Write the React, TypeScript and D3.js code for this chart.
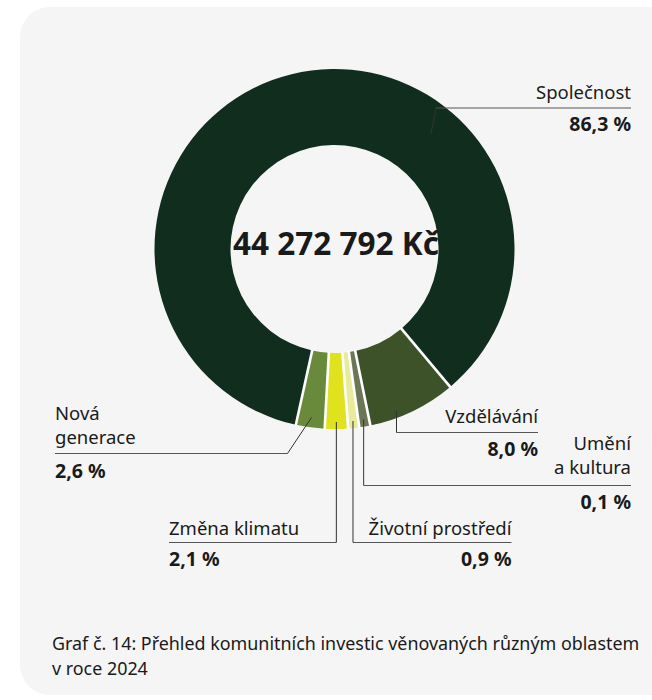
import React from "react";
import * as d3 from "d3";

// ---- data ----
const categories = [
  "Vzdělávání",
  "Umění a kultura",
  "Životní prostředí",
  "Změna klimatu",
  "Nová generace",
  "Společnost",
];
const shares = [8.0, 0.1, 0.9, 2.1, 2.6, 86.3];
const sliceColors = ["#3d5229", "#6b7657", "#e9ea9c", "#e0e21d", "#6a8a3b", "#112d1e"];
const totalAmount = 44272792;
const totalUnit = "Kč";
const captionLines = [
  "Graf č. 14: Přehled komunitních investic věnovaných různým oblastem",
  "v roce 2024",
];

// ---- layout ----
const W = 652;
const H = 700;
const CX = 334.5;
const CY = 249;
const R_OUT = 180;
const R_IN = 104;
const START_DEG = 140;
const MIN_SHARE = 1; // minimum visible share for tiny slices
const FONT = "'Noto Sans', 'DejaVu Sans', sans-serif";
const INK = "#1a1a1a";

type LabelLayout = {
  names: string[];
  align: "start" | "end";
  x: number;
  nameY: number[];
  ruleY: number;
  valueY: number;
  elbowX?: number;
  angleDeg?: number;
  r: number;
};

const labelLayout: Record<string, LabelLayout> = {
  "Společnost": { names: ["Společnost"], align: "end", x: 631, nameY: [98.5], ruleY: 108, valueY: 131, elbowX: 436, angleDeg: 40, r: 150 },
  "Vzdělávání": { names: ["Vzdělávání"], align: "end", x: 538, nameY: [422.5], ruleY: 432.5, valueY: 455.5, angleDeg: 159, r: 173 },
  "Umění a kultura": { names: ["Umění", "a kultura"], align: "end", x: 631, nameY: [449.5, 474], ruleY: 485.5, valueY: 508.5, r: 173 },
  "Životní prostředí": { names: ["Životní prostředí"], align: "end", x: 511.5, nameY: [535], ruleY: 542.5, valueY: 565.5, r: 173 },
  "Změna klimatu": { names: ["Změna klimatu"], align: "start", x: 169, nameY: [535], ruleY: 542.5, valueY: 565.5, r: 173 },
  "Nová generace": { names: ["Nová", "generace"], align: "start", x: 55, nameY: [419.5, 444], ruleY: 453.5, valueY: 477.5, elbowX: 287.5, r: 170 },
};

const fmtShare = (v: number) => d3.format(".1f")(v).replace(".", ",") + " %";
const fmtTotal = (v: number) => d3.format(",")(v).replace(/,/g, " ") + " " + totalUnit;

export default function App() {
  const rad = (d: number) => (d * Math.PI) / 180;
  const data = categories.map((c, i) => ({ name: c, value: shares[i], color: sliceColors[i] }));
  const pie = d3
    .pie<any>()
    .sort(null)
    .value((d) => Math.max(d.value, MIN_SHARE))
    .startAngle(rad(START_DEG))
    .endAngle(rad(START_DEG) + 2 * Math.PI);
  const arcs = pie(data);
  const arcGen = d3.arc<any>().innerRadius(R_IN).outerRadius(R_OUT);

  const polar = (a: number, r: number) => [CX + r * Math.sin(a), CY - r * Math.cos(a)];

  return (
    <svg
      width={W}
      height={H}
      style={{ position: "absolute", left: 0, top: 0, background: "#ffffff" }}
      fontFamily={FONT}
    >
      <rect x={20} y={7} width={W + 40} height={688} rx={30} ry={30} fill="#f5f5f5" />
      <g transform={`translate(${CX},${CY})`}>
        {arcs.map((a, i) => (
          <path key={i} d={arcGen(a) as string} fill={a.data.color} />
        ))}
        {arcs.map((a, i) => {
          const [x1, y1] = [(R_IN - 1) * Math.sin(a.startAngle), -(R_IN - 1) * Math.cos(a.startAngle)];
          const [x2, y2] = [(R_OUT + 1) * Math.sin(a.startAngle), -(R_OUT + 1) * Math.cos(a.startAngle)];
          return <line key={"g" + i} x1={x1} y1={y1} x2={x2} y2={y2} stroke="#ffffff" strokeWidth={2.6} />;
        })}
      </g>
      <text x={CX + 1.5} y={255} textAnchor="middle" fontSize={31.5} fontWeight={700} fill={INK}>
        {fmtTotal(totalAmount)}
      </text>
      {arcs.map((a, i) => {
        const L = labelLayout[a.data.name];
        const ang = L.angleDeg !== undefined ? rad(L.angleDeg) : (a.startAngle + a.endAngle) / 2;
        const [tx, ty] = polar(ang, L.r);
        const elbowX = L.elbowX !== undefined ? L.elbowX : tx;
        return (
          <g key={"l" + i}>
            <line x1={elbowX} y1={L.ruleY} x2={L.x} y2={L.ruleY} stroke="#555" strokeWidth={1.2} />
            <line x1={elbowX} y1={L.ruleY} x2={tx} y2={ty} stroke="#333" strokeWidth={1} />
            {L.names.map((n, j) => (
              <text key={j} x={L.x} y={L.nameY[j]} textAnchor={L.align} fontSize={18.5} fill={INK}>
                {n}
              </text>
            ))}
            <text x={L.x} y={L.valueY} textAnchor={L.align} fontSize={19.5} fontWeight={700} fill={INK}>
              {fmtShare(a.data.value)}
            </text>
          </g>
        );
      })}
      {captionLines.map((t, i) => (
        <text key={"c" + i} x={52} y={649.5 + i * 25.5} fontSize={17.9} fill={INK}>
          {t}
        </text>
      ))}
    </svg>
  );
}
